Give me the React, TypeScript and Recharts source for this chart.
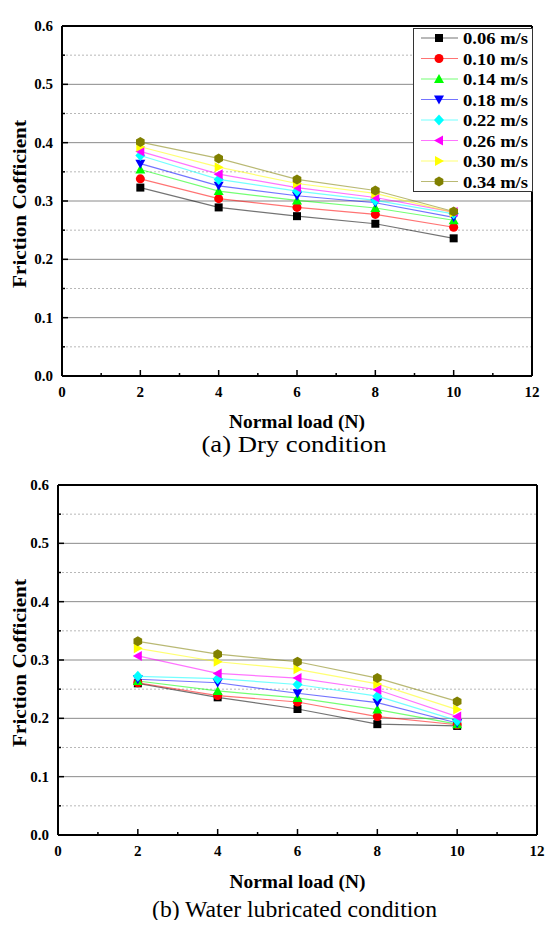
import React from 'react';
import { LineChart, Line, XAxis, YAxis, ReferenceLine, Legend } from 'recharts';

// loads on the x axis (N)
const LOADS = [2, 4, 6, 8, 10];
const SPEEDS = ['0.06 m/s', '0.10 m/s', '0.14 m/s', '0.18 m/s', '0.22 m/s', '0.26 m/s', '0.30 m/s', '0.34 m/s'];
const KEYS = ['s006', 's010', 's014', 's018', 's022', 's026', 's030', 's034'];

// (a) dry condition
const dry006 = [0.323, 0.289, 0.274, 0.261, 0.236];
const dry010 = [0.338, 0.304, 0.289, 0.277, 0.255];
const dry014 = [0.354, 0.317, 0.301, 0.288, 0.267];
const dry018 = [0.364, 0.326, 0.309, 0.297, 0.272];
const dry022 = [0.378, 0.337, 0.317, 0.301, 0.278];
const dry026 = [0.385, 0.346, 0.323, 0.306, 0.281];
const dry030 = [0.393, 0.358, 0.330, 0.313, 0.280];
const dry034 = [0.401, 0.373, 0.337, 0.318, 0.282];

// (b) water lubricated condition
const wet006 = [0.260, 0.236, 0.216, 0.190, 0.187];
const wet010 = [0.261, 0.239, 0.228, 0.203, 0.189];
const wet014 = [0.264, 0.247, 0.235, 0.215, 0.190];
const wet018 = [0.267, 0.261, 0.243, 0.227, 0.192];
const wet022 = [0.272, 0.268, 0.258, 0.238, 0.196];
const wet026 = [0.307, 0.277, 0.269, 0.249, 0.203];
const wet030 = [0.320, 0.297, 0.284, 0.259, 0.215];
const wet034 = [0.332, 0.310, 0.297, 0.269, 0.229];

const X_TICKS = [0, 1, 2, 3, 4, 5, 6, 7, 8, 9, 10, 11, 12];
const Y_TICKS = [0, 0.05, 0.1, 0.15, 0.2, 0.25, 0.3, 0.35, 0.4, 0.45, 0.5, 0.55, 0.6];
const GRID_MAJOR = [0.1, 0.2, 0.3, 0.4, 0.5];
const GRID_MINOR = [0.05, 0.15, 0.25, 0.35, 0.45, 0.55];

const COLORS = ['#000000', '#ff0000', '#00ff00', '#0000ff', '#00ffff', '#ff00ff', '#ffff00', '#808000'];
const SHAPES = ['square', 'circle', 'up', 'down', 'diamond', 'left', 'right', 'hexagon'];

const FONT = 'Liberation Serif, Tinos, DejaVu Serif, serif';

function buildRows(series: number[][]) {
  return LOADS.map((load, i) => {
    const row: any = { load };
    KEYS.forEach((k, j) => { row[k] = series[j][i]; });
    return row;
  });
}

const dryRows = buildRows([dry006, dry010, dry014, dry018, dry022, dry026, dry030, dry034]);
const wetRows = buildRows([wet006, wet010, wet014, wet018, wet022, wet026, wet030, wet034]);

const Marker = ({ cx, cy, shape, color }: any) => {
  if (cx == null || cy == null) return null;
  switch (shape) {
    case 'square':
      return <rect x={cx - 4} y={cy - 4} width={8} height={8} fill={color} />;
    case 'circle':
      return <circle cx={cx} cy={cy} r={4.5} fill={color} />;
    case 'up':
      return <polygon points={`${cx},${cy - 5} ${cx + 5},${cy + 4} ${cx - 5},${cy + 4}`} fill={color} />;
    case 'down':
      return <polygon points={`${cx - 5},${cy - 4} ${cx + 5},${cy - 4} ${cx},${cy + 5}`} fill={color} />;
    case 'diamond':
      return <polygon points={`${cx},${cy - 5.5} ${cx + 5},${cy} ${cx},${cy + 5.5} ${cx - 5},${cy}`} fill={color} />;
    case 'left':
      return <polygon points={`${cx - 5},${cy} ${cx + 4},${cy - 5} ${cx + 4},${cy + 5}`} fill={color} />;
    case 'right':
      return <polygon points={`${cx + 5},${cy} ${cx - 4},${cy - 5} ${cx - 4},${cy + 5}`} fill={color} />;
    default: {
      const pts = [0, 1, 2, 3, 4, 5].map((k) => {
        const a = (Math.PI / 3) * k + Math.PI / 6;
        return `${cx + 5 * Math.cos(a)},${cy + 5 * Math.sin(a)}`;
      });
      return <polygon points={pts.join(' ')} fill={color} />;
    }
  }
};

const XTick = (props: any) => {
  const { x, y, payload } = props;
  const major = payload.value % 2 === 0;
  return (
    <g>
      <line x1={x} x2={x} y1={y} y2={y - (major ? 6 : 3)} stroke="#000" strokeWidth={1.5} />
      {major && (
        <text x={x} y={y + 21} textAnchor="middle" style={{ fontFamily: FONT, fontWeight: 700, fontSize: 15 }} fill="#000">
          {payload.value}
        </text>
      )}
    </g>
  );
};

const YTick = (props: any) => {
  const { x, y, payload } = props;
  const major = Math.round(payload.value * 100) % 10 === 0;
  return (
    <g>
      <line x1={x} x2={x + (major ? 6 : 3)} y1={y} y2={y} stroke="#000" strokeWidth={1.5} />
      {major && (
        <text x={x - 9} y={y + 5} textAnchor="end" style={{ fontFamily: FONT, fontWeight: 700, fontSize: 15 }} fill="#000">
          {payload.value.toFixed(1)}
        </text>
      )}
    </g>
  );
};

const LegendBox = ({ width, height, lineX1, lineX2, markX, textX, firstRow }: any) => (
  <div style={{ position: 'relative', width, height, background: '#fff', border: '1px solid #333', boxSizing: 'border-box' }}>
    <svg width={width} height={height} style={{ position: 'absolute', left: 0, top: 0 }}>
      {SPEEDS.map((s, i) => {
        const cy = firstRow + i * 20.5;
        return (
          <g key={s}>
            <line x1={lineX1} x2={lineX2} y1={cy} y2={cy} stroke={COLORS[i]} strokeOpacity={0.55} strokeWidth={1.2} />
            <Marker cx={markX} cy={cy} shape={SHAPES[i]} color={COLORS[i]} />
            <text x={textX} y={cy + 6} textLength={65} lengthAdjust="spacingAndGlyphs" style={{ fontFamily: FONT, fontWeight: 700, fontSize: 17 }} fill="#000">{s}</text>
          </g>
        );
      })}
    </svg>
  </div>
);

const Panel = ({ rows, top, yWidth, right, caption, captionLen, legend, titleDy, captionDy, yTitleShift }: any) => (
  <div style={{ position: 'absolute', left: 0, top }}>
    <LineChart width={559} height={460} data={rows} margin={{ top: 25, right, left: 0, bottom: 0 }}>
      {GRID_MINOR.map((v) => (
        <ReferenceLine key={'mn' + v} y={v} stroke="#b8b8b8" strokeDasharray="2 2" strokeWidth={1} />
      ))}
      {GRID_MAJOR.map((v) => (
        <ReferenceLine key={'mj' + v} y={v} stroke="#8a8a8a" strokeWidth={1} />
      ))}
      <ReferenceLine y={0.6} stroke="#000" strokeWidth={2} />
      <ReferenceLine x={12} stroke="#000" strokeWidth={2} />
      <XAxis
        dataKey="load"
        type="number"
        domain={[0, 12]}
        ticks={X_TICKS}
        interval={0}
        height={85}
        tickSize={0}
        tickMargin={0}
        tickLine={false}
        tick={XTick}
        axisLine={{ stroke: '#000', strokeWidth: 2 }}
        label={(p: any) => {
          const vb = p.viewBox;
          const cx = vb.x + vb.width / 2;
          return (
            <g>
              <text x={cx} y={vb.y + titleDy} textAnchor="middle" textLength={136} lengthAdjust="spacingAndGlyphs" style={{ fontFamily: FONT, fontWeight: 700, fontSize: 18 }} fill="#000">
                Normal load (N)
              </text>
              <text x={cx - 3} y={vb.y + captionDy} textAnchor="middle" textLength={captionLen} lengthAdjust="spacingAndGlyphs" style={{ fontFamily: FONT, fontWeight: 400, fontSize: 24 }} fill="#000">
                {caption}
              </text>
            </g>
          );
        }}
      />
      <YAxis
        type="number"
        domain={[0, 0.6]}
        ticks={Y_TICKS}
        interval={0}
        width={yWidth}
        tickSize={0}
        tickMargin={0}
        tickLine={false}
        tick={YTick}
        axisLine={{ stroke: '#000', strokeWidth: 2 }}
        label={(p: any) => {
          const vb = p.viewBox;
          const cy = vb.y + vb.height / 2 + yTitleShift;
          return (
            <text x={26} y={cy} transform={`rotate(-90, 26, ${cy})`} textAnchor="middle" textLength={168} lengthAdjust="spacingAndGlyphs" style={{ fontFamily: FONT, fontWeight: 700, fontSize: 18 }} fill="#000">
              Friction Cofficient
            </text>
          );
        }}
      />
      <Legend
        layout="vertical"
        align="center"
        verticalAlign="middle"
        wrapperStyle={{ left: legend.left, top: legend.top, width: legend.width, height: legend.height }}
        content={() => <LegendBox {...legend} />}
      />
      {KEYS.map((k, i) => (
        <Line
          key={k}
          type="linear"
          dataKey={k}
          name={SPEEDS[i]}
          stroke={COLORS[i]}
          strokeOpacity={0.55}
          strokeWidth={1.2}
          activeDot={false}
          isAnimationActive={false}
          dot={(p: any) => <Marker key={k + p.index} cx={p.cx} cy={p.cy} shape={SHAPES[i]} color={COLORS[i]} />}
        />
      ))}
    </LineChart>
  </div>
);

export default function App() {
  return (
    <div style={{ position: 'absolute', left: 0, top: 0, width: 559, height: 938, background: '#fff' }}>
      <Panel
        rows={dryRows}
        top={1}
        yWidth={62}
        right={27}
        caption="(a) Dry condition"
        captionLen={185}
        titleDy={52}
        captionDy={76}
        yTitleShift={3}
        legend={{ left: 413, top: 27, width: 120, height: 164, lineX1: 7, lineX2: 44, markX: 25, textX: 49, firstRow: 9 }}
      />
      <Panel
        rows={wetRows}
        top={460}
        yWidth={58}
        right={22}
        caption="(b) Water lubricated condition"
        captionLen={285}
        titleDy={53}
        captionDy={82}
        yTitleShift={3}
        legend={{ left: 414, top: 488, width: 123, height: 164, lineX1: 8, lineX2: 45, markX: 27, textX: 50, firstRow: 10 }}
      />
    </div>
  );
}
